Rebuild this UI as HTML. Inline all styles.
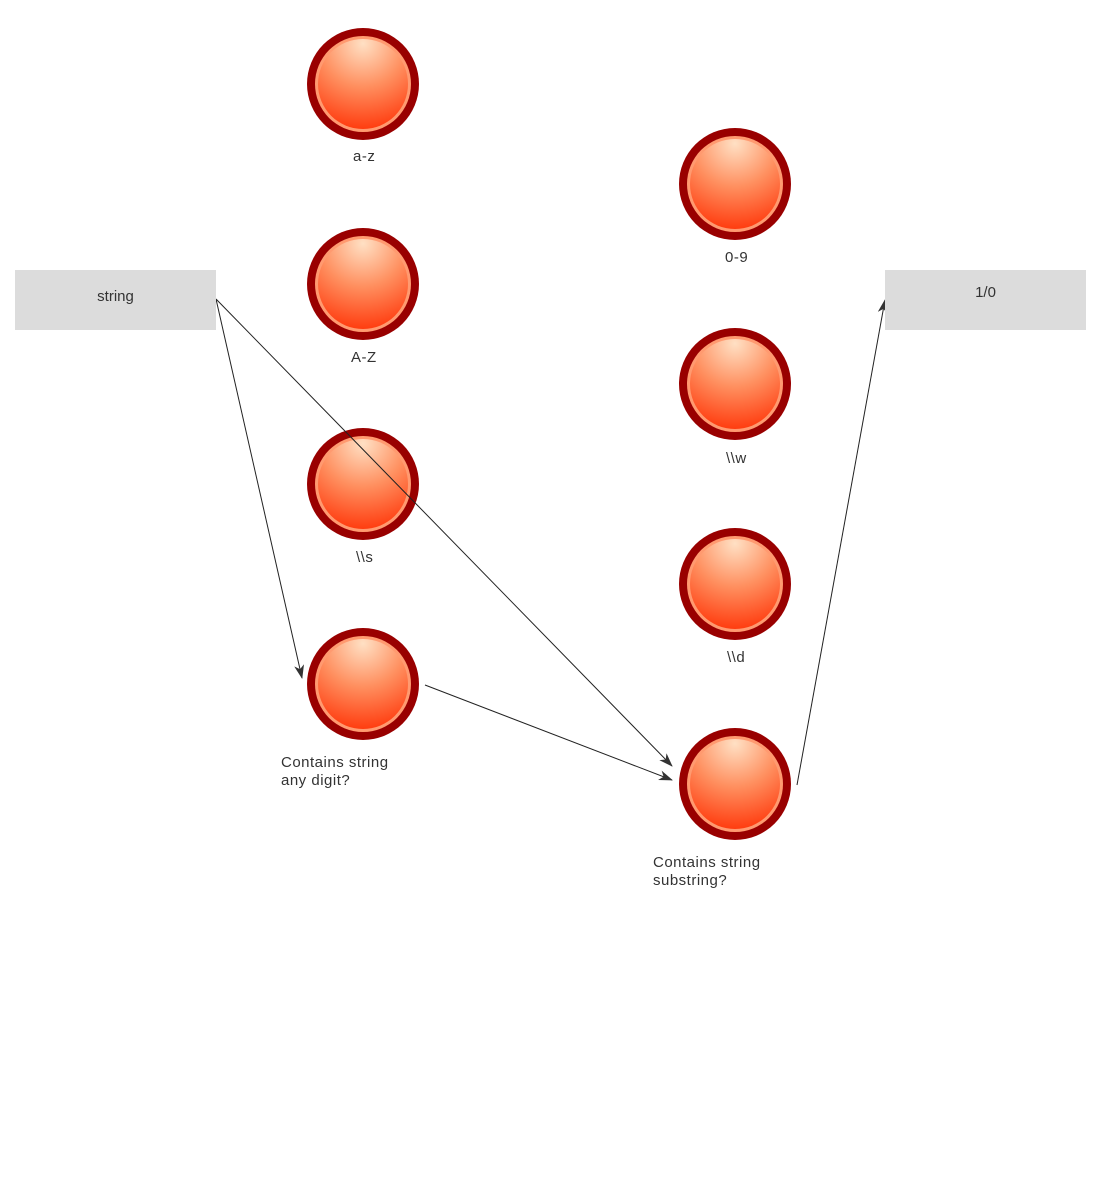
<!DOCTYPE html>
<html><head><meta charset="utf-8"><style>
body{margin:0;width:1100px;height:1200px;background:#fff;overflow:hidden;position:relative;font-family:"Liberation Sans",sans-serif;}
.box{position:absolute;background:#dcdcdc;color:#333;font-size:15px;text-align:center;}
.lbl{position:absolute;color:#333;font-size:15px;letter-spacing:0.5px;line-height:18px;}
</style></head><body>
<svg width="1100" height="1200" style="position:absolute;left:0;top:0">
<defs>
<radialGradient id="g" cx="0.5" cy="0.05" r="0.95" fx="0.5" fy="0.05">
<stop offset="0" stop-color="#ffe0c4"/><stop offset="0.5" stop-color="#ff9060"/><stop offset="1" stop-color="#ff3d10"/>
</radialGradient>
<g id="c"><circle r="56" fill="#990000"/><circle r="48" fill="#ff9a70"/><circle r="45" fill="url(#g)"/></g>
<marker id="a" markerWidth="14" markerHeight="10" refX="13" refY="5" orient="auto" markerUnits="userSpaceOnUse"><path d="M0,0 L14,5 L0,10 L4,5 Z" fill="#333"/></marker>
</defs>
<use href="#c" x="363" y="84"/><use href="#c" x="363" y="284"/><use href="#c" x="363" y="484"/><use href="#c" x="363" y="684"/>
<use href="#c" x="735" y="184"/><use href="#c" x="735" y="384"/><use href="#c" x="735" y="584"/><use href="#c" x="735" y="784"/>
<g stroke="#222" stroke-width="1" fill="none" marker-end="url(#a)">
<line x1="216" y1="299" x2="672" y2="766"/>
<line x1="216" y1="299" x2="302" y2="678"/>
<line x1="425" y1="685" x2="672" y2="780"/>
<line x1="797" y1="785" x2="885" y2="300"/>
</g>
</svg>
<div class="box" style="left:15px;top:270px;width:201px;height:60px;line-height:54px">string</div>
<div class="box" style="left:885px;top:270px;width:201px;height:60px;line-height:46px">1/0</div>
<div class="lbl" style="left:353px;top:148px">a-z</div>
<div class="lbl" style="left:351px;top:349px">A-Z</div>
<div class="lbl" style="left:356px;top:549px">\\s</div>
<div class="lbl" style="left:281px;top:754px">Contains string<br>any digit?</div>
<div class="lbl" style="left:725px;top:249px">0-9</div>
<div class="lbl" style="left:726px;top:450px">\\w</div>
<div class="lbl" style="left:727px;top:649px">\\d</div>
<div class="lbl" style="left:653px;top:854px">Contains string<br>substring?</div>
</body></html>
